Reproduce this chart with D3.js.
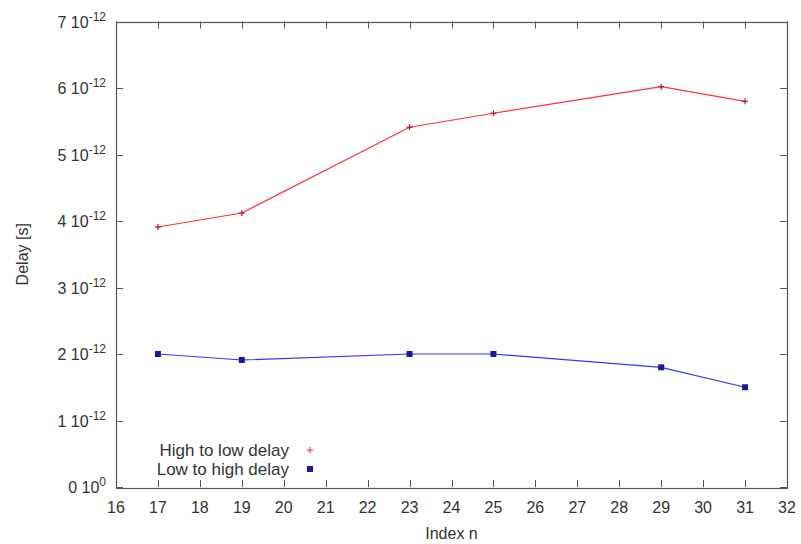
<!DOCTYPE html>
<html>
<head>
<meta charset="utf-8">
<script src="https://cdn.jsdelivr.net/npm/d3@7"></script>
<style>
  body { margin: 0; background: #fff; }
  text { font-family: "Liberation Sans", Arial, sans-serif; fill: #333; }
</style>
</head>
<body>
<div id="container"></div>
<script>
// DATA
const indexN = [17, 19, 23, 25, 29, 31];
const highToLow = [3.91e-12, 4.12e-12, 5.41e-12, 5.62e-12, 6.02e-12, 5.80e-12];
const lowToHigh = [2.00e-12, 1.91e-12, 2.00e-12, 2.00e-12, 1.80e-12, 1.50e-12];
const xTicks = d3.range(16, 33);
const yTicks = [0, 1e-12, 2e-12, 3e-12, 4e-12, 5e-12, 6e-12, 7e-12];

const width = 801, height = 544,
    margin = {top: 21.5, bottom: 57, left: 116, right: 14};

const svg = d3.select("#container").append("svg")
  .attr("width", width).attr("height", height);

const xScale = d3.scaleLinear().domain([16, 32]).range([margin.left, width - margin.right]);
const yScale = d3.scaleLinear().domain([0, 7e-12]).range([height - margin.bottom, margin.top]);

const x0 = xScale.range()[0], x1 = xScale.range()[1];
const y0 = yScale.range()[0], y1 = yScale.range()[1];
const tick = 7, axisColor = "#555";

// ticks (inward, mirrored)
const tg = svg.append("g").attr("stroke", axisColor).attr("stroke-width", 1);
xTicks.forEach(t => {
  const x = Math.round(xScale(t)) + 0.5;
  tg.append("line").attr("x1", x).attr("x2", x).attr("y1", y0).attr("y2", y0 - tick);
  tg.append("line").attr("x1", x).attr("x2", x).attr("y1", y1).attr("y2", y1 + tick);
});
yTicks.forEach(t => {
  const y = Math.round(yScale(t)) + 0.5;
  tg.append("line").attr("x1", x0).attr("x2", x0 + tick).attr("y1", y).attr("y2", y);
  tg.append("line").attr("x1", x1).attr("x2", x1 - tick).attr("y1", y).attr("y2", y);
});

// border
svg.append("rect")
  .attr("x", Math.round(x0) + 0.5).attr("y", Math.round(y1) + 0.5)
  .attr("width", Math.round(x1 - x0)).attr("height", Math.round(y0 - y1))
  .attr("fill", "none").attr("stroke", axisColor).attr("stroke-width", 1.2);

// tick labels
svg.append("g").selectAll("text").data(xTicks).join("text")
  .attr("x", d => xScale(d)).attr("y", y0 + 26)
  .attr("text-anchor", "middle").attr("font-size", 16)
  .text(d => d);

const yl = svg.append("g").selectAll("text").data(yTicks).join("text")
  .attr("x", x0 - 10).attr("y", d => yScale(d) + 6)
  .attr("text-anchor", "end").attr("font-size", 16);
yl.each(function(d) {
  const t = d3.select(this);
  const m = Math.round(d / 1e-12);
  t.append("tspan").text(m + " 10");
  t.append("tspan").attr("dy", -7).attr("font-size", 12).text(m === 0 ? "0" : "-12");
});

// axis labels
svg.append("text").attr("x", (x0 + x1) / 2).attr("y", 539)
  .attr("text-anchor", "middle").attr("font-size", 16).text("Index n");
svg.append("text").attr("transform", `translate(28, ${(y0 + y1) / 2}) rotate(-90)`)
  .attr("text-anchor", "middle").attr("font-size", 16).text("Delay [s]");

// lines
const lineGen = d3.line().x(d => xScale(d[0])).y(d => yScale(d[1]));
const redData = indexN.map((n, i) => [n, highToLow[i]]);
const blueData = indexN.map((n, i) => [n, lowToHigh[i]]);

svg.append("path").attr("d", lineGen(redData))
  .attr("fill", "none").attr("stroke", "#ff3040").attr("stroke-width", 1.2);
svg.append("path").attr("d", lineGen(blueData))
  .attr("fill", "none").attr("stroke", "#3535ff").attr("stroke-width", 1.2);

// points
const plus = (g, x, y, s) => {
  g.append("line").attr("x1", x - s).attr("x2", x + s).attr("y1", y).attr("y2", y);
  g.append("line").attr("x1", x).attr("x2", x).attr("y1", y - s).attr("y2", y + s);
};
const pg = svg.append("g").attr("stroke", "#c01030").attr("stroke-width", 1.2);
redData.forEach(d => plus(pg, xScale(d[0]), yScale(d[1]), 3));

svg.append("g").selectAll("rect").data(blueData).join("rect")
  .attr("x", d => xScale(d[0]) - 3).attr("y", d => yScale(d[1]) - 3)
  .attr("width", 6).attr("height", 6).attr("fill", "#1a1aa0");

// legend
const legend = [
  {label: "High to low delay", y: 450, type: "plus"},
  {label: "Low to high delay", y: 469, type: "square"}
];
legend.forEach(l => {
  svg.append("text").attr("x", 289).attr("y", l.y + 6)
    .attr("text-anchor", "end").attr("font-size", 17).text(l.label);
  if (l.type === "plus") {
    const g = svg.append("g").attr("stroke", "#ff4050").attr("stroke-width", 1.2);
    plus(g, 310, l.y, 3);
  } else {
    svg.append("rect").attr("x", 307).attr("y", l.y - 3).attr("width", 6).attr("height", 6)
      .attr("fill", "#1a1aa0");
  }
});
</script>
</body>
</html>
